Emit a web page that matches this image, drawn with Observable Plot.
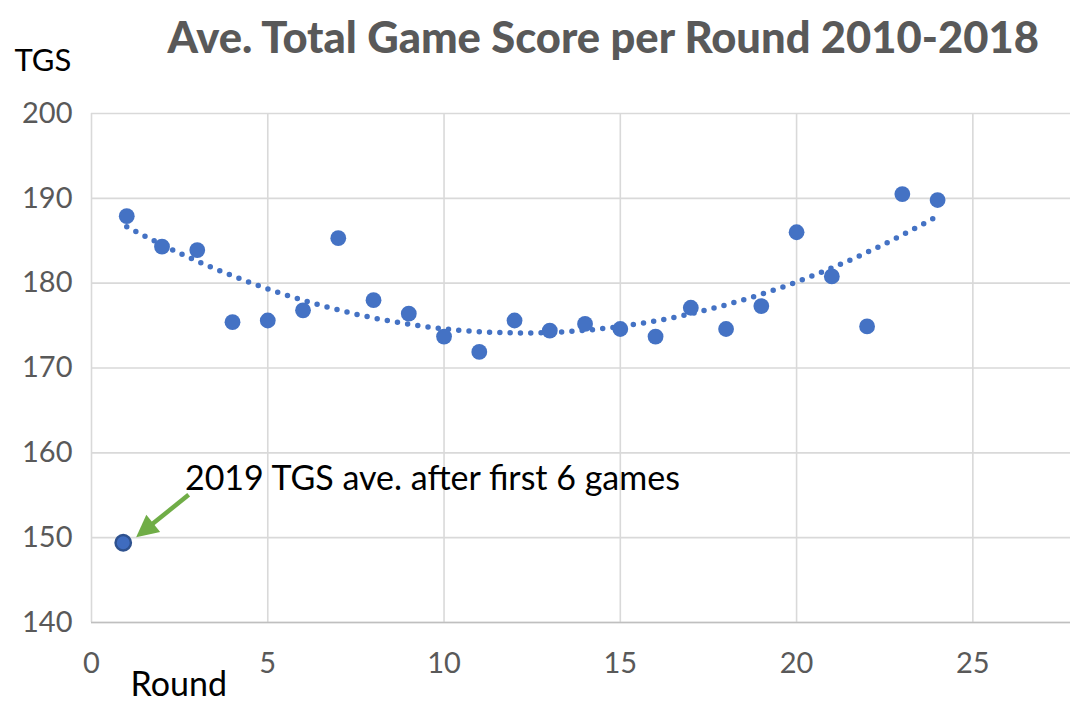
<!DOCTYPE html>
<html>
<head>
<meta charset="utf-8">
<script src="https://cdn.jsdelivr.net/npm/d3@7"></script>
<script src="https://cdn.jsdelivr.net/npm/@observablehq/plot@0.6"></script>
<style>
  html, body { margin: 0; padding: 0; background: #fff; }
  #chart svg { display: block; }
</style>
</head>
<body>
<div id="chart"></div>
<script>
// ---- data ----
const rounds = [1,2,3,4,5,6,7,8,9,10,11,12,13,14,15,16,17,18,19,20,21,22,23,24];
const avgTGS = [187.9,184.3,183.9,175.4,175.6,176.8,185.3,178.0,176.4,173.7,171.9,175.6,
                174.4,175.2,174.6,173.7,177.1,174.6,177.3,186.0,180.8,174.9,190.5,189.8];
const point2019 = {round: 0.9, tgs: 149.4};
const xTicks = [0,5,10,15,20,25];
const yTicks = [140,150,160,170,180,190,200];
const titleText = "Ave. Total Game Score per Round 2010-2018";
const annotationText = "2019 TGS ave. after first 6 games";
const annotation = {textX: 2.65, textY: 155.6, fromX: 2.77, fromY: 155.0, toX: 1.28, toY: 150.0};

const points = rounds.map((r, i) => ({round: r, tgs: avgTGS[i]}));

// quadratic (order 2) least-squares trendline, as in the spreadsheet
function quadFit(xs, ys) {
  const S = k => d3.sum(xs, x => x ** k);
  const T = k => d3.sum(xs, (x, i) => x ** k * ys[i]);
  const A = [[S(0), S(1), S(2)], [S(1), S(2), S(3)], [S(2), S(3), S(4)]];
  const b = [T(0), T(1), T(2)];
  for (let i = 0; i < 3; i++) {
    for (let j = i + 1; j < 3; j++) {
      const f = A[j][i] / A[i][i];
      for (let k = i; k < 3; k++) A[j][k] -= f * A[i][k];
      b[j] -= f * b[i];
    }
  }
  const c = [0, 0, 0];
  for (let i = 2; i >= 0; i--) {
    let s = b[i];
    for (let k = i + 1; k < 3; k++) s -= A[i][k] * c[k];
    c[i] = s / A[i][i];
  }
  return x => c[0] + c[1] * x + c[2] * x * x;
}
const trend = quadFit(rounds, avgTGS);
const trendPts = d3.range(rounds[0], rounds[rounds.length - 1] + 0.001, 0.05).map(x => ({round: x, tgs: trend(x)}));

const blue = "#4472C4";
const green = "#70AD47";
const grey = "#595959";
const font = "Lato, 'Open Sans', sans-serif";

// custom mark: green arrow with filled head
function arrowMark(index, scales) {
  const x1 = scales.x(annotation.fromX), y1 = scales.y(annotation.fromY);
  const x2 = scales.x(annotation.toX), y2 = scales.y(annotation.toY);
  const dx = x2 - x1, dy = y2 - y1, len = Math.hypot(dx, dy);
  const ux = dx / len, uy = dy / len;
  const headLen = 22, headHalf = 11;
  const bx = x2 - ux * headLen, by = y2 - uy * headLen;
  const g = d3.create("svg:g");
  g.append("line").attr("x1", x1).attr("y1", y1).attr("x2", bx + ux * 2).attr("y2", by + uy * 2)
    .attr("stroke", green).attr("stroke-width", 4.5);
  g.append("polygon")
    .attr("points", [[x2, y2], [bx - uy * headHalf, by + ux * headHalf], [bx + uy * headHalf, by - ux * headHalf]].map(p => p.join(",")).join(" "))
    .attr("fill", green);
  return g.node();
}

const chart = Plot.plot({
  width: 1070,
  height: 702,
  marginLeft: 91,
  marginRight: 0,
  marginTop: 113,
  marginBottom: 80,
  style: {fontFamily: font, background: "#fff"},
  x: {domain: [0, 27.77], ticks: xTicks, label: null},
  y: {domain: [140, 200], ticks: yTicks, label: null},
  marks: [
    Plot.gridX(xTicks, {stroke: "#d9d9d9", strokeOpacity: 1, strokeWidth: 1.6}),
    Plot.gridY(yTicks, {stroke: "#d9d9d9", strokeOpacity: 1, strokeWidth: 1.6}),
    Plot.ruleY([140], {stroke: "#bfbfbf", strokeWidth: 1.6}),
    Plot.axisX(xTicks, {tickSize: 0, tickPadding: 30, fontSize: 29, fill: grey, label: null}),
    Plot.axisY(yTicks, {tickSize: 0, tickPadding: 19, fontSize: 29, fill: grey, label: null}),
    Plot.line(trendPts, {x: "round", y: "tgs", stroke: blue, strokeWidth: 5.5, strokeDasharray: "0 10.3", strokeLinecap: "round"}),
    Plot.dot(points, {x: "round", y: "tgs", r: 7.9, fill: blue, stroke: "none"}),
    Plot.dot([point2019], {x: "round", y: "tgs", r: 7.7, fill: "#3f6cbf", stroke: "#2F528F", strokeWidth: 2.4}),
    arrowMark,
    Plot.text([annotationText], {x: () => annotation.textX, y: () => annotation.textY, textAnchor: "start", lineAnchor: "bottom", fontSize: 34, fill: "#000"}),
    Plot.text([titleText], {frameAnchor: "top-left", textAnchor: "start", lineAnchor: "bottom", dx: 76, dy: -61, fontSize: 43.5, fontWeight: 900, fill: grey}),
    Plot.text(["TGS"], {frameAnchor: "top-left", textAnchor: "start", lineAnchor: "bottom", dx: -77, dy: -43, fontSize: 31, fill: "#000"}),
    Plot.text(["Round"], {frameAnchor: "bottom-left", textAnchor: "start", lineAnchor: "bottom", dx: 39, dy: 73, fontSize: 34, fill: "#000"})
  ]
});
document.getElementById("chart").append(chart);
</script>
</body>
</html>
